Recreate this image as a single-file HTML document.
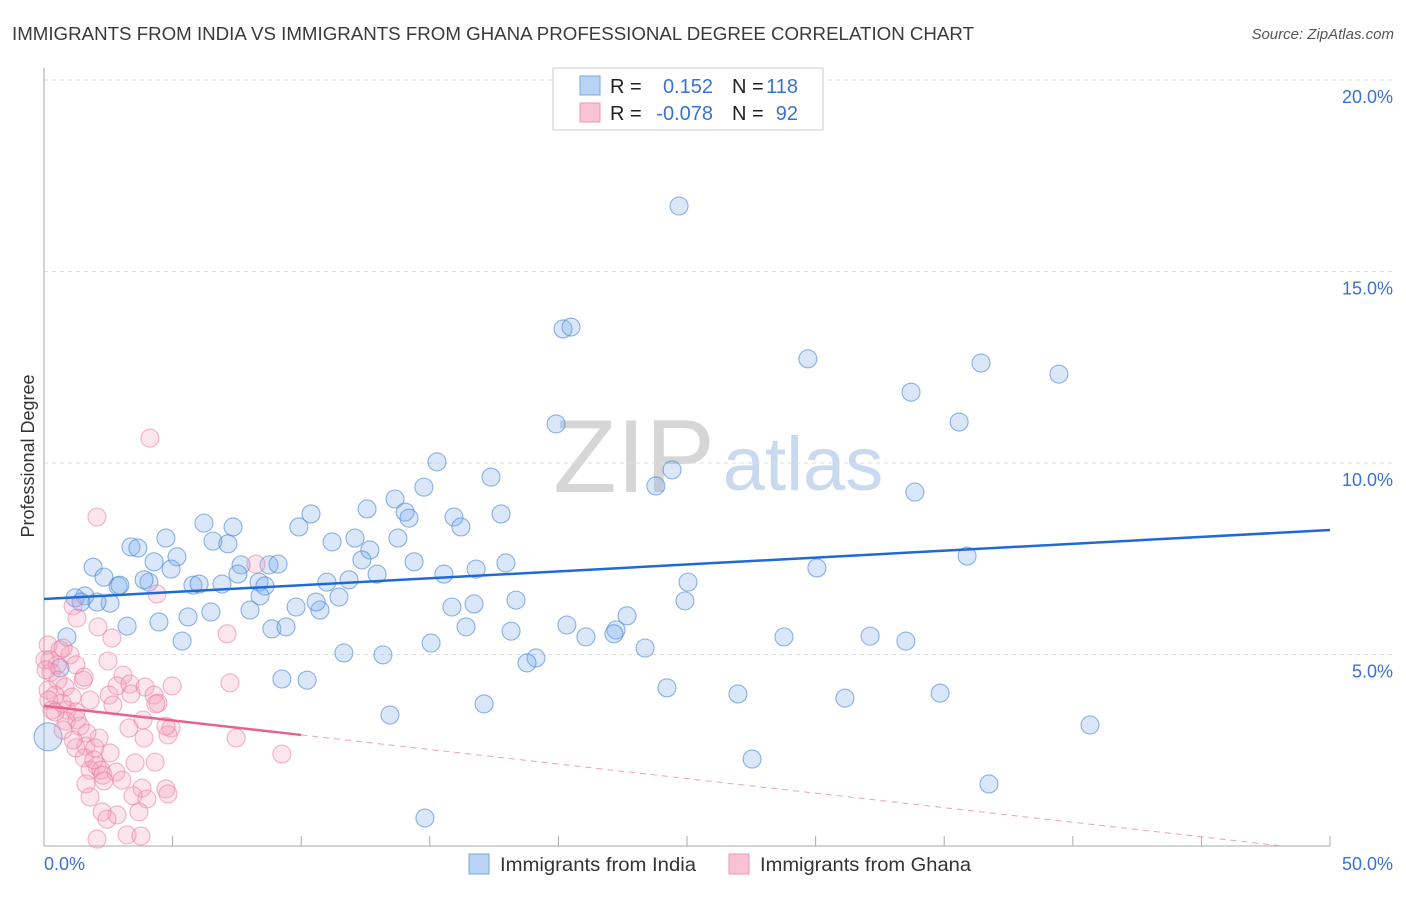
<!DOCTYPE html>
<html><head><meta charset="utf-8"><style>
body{margin:0;background:#fff;font-family:"Liberation Sans",sans-serif}
svg text{font-family:"Liberation Sans",sans-serif}
</style></head><body>
<svg id="chart" width="1406" height="892" viewBox="0 0 1406 892" xmlns="http://www.w3.org/2000/svg">
<text x="12" y="40" font-size="18.7" fill="#3a3a3a" textLength="962" lengthAdjust="spacingAndGlyphs">IMMIGRANTS FROM INDIA VS IMMIGRANTS FROM GHANA PROFESSIONAL DEGREE CORRELATION CHART</text>
<text x="1394" y="39" font-size="15" fill="#555" text-anchor="end" font-style="italic">Source: ZipAtlas.com</text>
<g>
<text x="634" y="492" font-size="104" fill="#d6d6d6" text-anchor="middle" font-family="Liberation Serif, serif">ZIP</text>
<text x="803" y="490" font-size="76" fill="#c9d9f0" text-anchor="middle">atlas</text>
</g>
<text transform="translate(34,456) rotate(-90)" font-size="18" fill="#333" text-anchor="middle">Professional Degree</text>
<g id="grid"></g><g id="axes"></g><g id="pts"></g><g id="trend"></g>
<g>
<rect x="553" y="68" width="270" height="62" fill="#fff" stroke="#ccc"/>
<rect x="580" y="76" width="20" height="19" fill="#b9d3f5" stroke="#7aa8e3"/>
<rect x="580" y="103" width="20" height="19" fill="#f9c3d3" stroke="#ec97b2"/>
<text x="610" y="93" font-size="20" fill="#222">R =</text>
<text x="713" y="93" font-size="20" fill="#3a72d0" text-anchor="end">0.152</text>
<text x="732" y="93" font-size="20" fill="#222">N =</text>
<text x="798" y="93" font-size="20" fill="#3a72d0" text-anchor="end">118</text>
<text x="610" y="120" font-size="20" fill="#222">R =</text>
<text x="713" y="120" font-size="20" fill="#3a72d0" text-anchor="end">-0.078</text>
<text x="732" y="120" font-size="20" fill="#222">N =</text>
<text x="798" y="120" font-size="20" fill="#3a72d0" text-anchor="end">92</text>
</g>
<g>
<rect x="469" y="854" width="20" height="20" fill="#b9d3f5" stroke="#7aa8e3"/>
<text x="500" y="871" font-size="19.5" fill="#333" textLength="196" lengthAdjust="spacingAndGlyphs">Immigrants from India</text>
<rect x="729" y="854" width="20" height="20" fill="#f9c3d3" stroke="#ec97b2"/>
<text x="760" y="871" font-size="19.5" fill="#333" textLength="211" lengthAdjust="spacingAndGlyphs">Immigrants from Ghana</text>
</g>
</svg>
<script>
const xTicks=[0,5,10,15,20,25,30,35,40,45,50];
const yTicks=[5,10,15,20];
const yTickLabels=["5.0%","10.0%","15.0%","20.0%"];
const xEndLabels=["0.0%","50.0%"];
const indiaX=[24.69,20.18,20.49,29.70,36.43,39.46,33.71,19.91,35.58,15.28,24.42,23.79,33.86,17.38,14.77,13.65,14.04,14.19,15.94,16.21,17.77,10.38,9.91,6.22,7.35,12.56,12.09,13.76,12.67,11.20,4.74,3.38,3.65,6.57,7.15,5.17,4.28,1.91,2.33,4.08,4.94,2.88,3.89,2.95,7.66,7.54,8.75,9.10,12.36,14.39,12.95,15.55,16.80,17.96,11.00,11.86,8.36,8.59,5.79,6.03,6.92,8.40,2.57,1.59,1.21,1.44,2.06,11.47,9.80,10.73,10.58,8.01,6.49,5.60,4.47,3.23,5.37,8.86,9.41,15.86,16.72,18.35,22.67,20.33,16.41,18.16,22.24,22.16,21.07,24.92,25.04,30.05,35.89,28.77,32.12,33.51,23.37,15.05,11.66,13.18,19.13,18.78,9.25,10.23,24.22,26.98,31.14,34.84,17.11,13.45,40.67,27.53,36.74,14.81,0.89,0.62,0.16];
const indiaY=[16.71,13.5,13.55,12.72,12.61,12.32,11.85,11.02,11.07,10.03,9.82,9.40,9.24,9.63,9.37,9.06,8.72,8.56,8.59,8.33,8.67,8.67,8.33,8.43,8.33,8.80,8.04,8.04,7.73,7.94,8.04,7.81,7.78,7.96,7.89,7.55,7.42,7.28,7.02,6.89,7.23,6.79,6.95,6.81,7.34,7.10,7.34,7.36,7.47,7.42,7.10,7.10,7.23,7.39,6.89,6.95,6.89,6.79,6.81,6.84,6.84,6.53,6.34,6.53,6.48,6.37,6.37,6.50,6.24,6.16,6.37,6.16,6.11,5.98,5.85,5.74,5.35,5.67,5.72,6.24,6.32,6.42,6.01,5.77,5.72,5.61,5.64,5.54,5.46,6.40,6.89,7.26,7.57,5.46,5.48,5.35,5.17,5.30,5.04,4.99,4.91,4.78,4.36,4.33,4.13,3.97,3.86,3.99,3.71,3.42,3.16,2.27,1.62,0.73,5.46,4.65,2.85];
const ghanaX=[4.12,2.06,8.24,4.39,1.13,1.28,2.10,7.12,2.64,0.16,0.62,0.23,0.51,1.01,0.74,0.27,0.54,0.82,1.09,1.52,1.24,2.49,1.56,3.07,2.84,3.34,2.53,1.79,3.38,3.93,4.28,4.98,4.43,7.23,2.68,4.35,0.89,1.24,0.86,1.28,1.67,3.85,3.30,3.89,4.94,4.82,7.47,9.25,1.63,1.98,2.14,1.56,2.06,1.24,1.79,2.22,2.29,1.94,2.80,3.54,4.32,1.63,1.79,2.33,3.03,3.81,4.74,4.82,3.46,4.00,2.26,2.84,2.45,3.69,2.06,3.23,3.77,0.16,0.43,0.19,0.70,0.31,1.13,1.40,0.74,2.57,0.04,0.08,0.43,4.74];
const ghanaY=[10.65,8.59,7.36,6.58,6.27,5.95,5.72,5.54,5.43,5.25,5.12,4.86,4.73,4.99,5.17,4.54,4.33,4.15,3.89,4.33,4.73,4.83,4.41,4.46,4.18,4.23,3.94,3.81,3.97,4.15,3.94,4.18,3.73,4.26,3.68,3.71,3.55,3.50,3.26,3.29,2.95,3.29,3.08,2.82,3.08,2.90,2.82,2.40,2.61,2.56,2.82,2.30,2.09,2.56,1.98,1.98,1.85,2.25,1.93,2.17,2.19,1.62,1.28,1.70,1.72,1.51,1.49,1.36,1.31,1.23,0.89,0.81,0.70,0.89,0.18,0.29,0.26,4.07,3.94,3.81,3.73,3.55,2.77,3.13,3.03,2.43,4.86,4.60,3.50,3.13];
const indiaTrend=[6.45,8.25];
const ghanaTrend=[3.66,-0.076];
const NS="http://www.w3.org/2000/svg";
const X0=44,X1=1330,Y0=846,YTOP=80;
const sx=v=>X0+(X1-X0)*v/50;
const sy=v=>Y0-(Y0-YTOP)*v/20;
function mk(tag,attrs,parent){const e=document.createElementNS(NS,tag);for(const k in attrs)e.setAttribute(k,attrs[k]);document.getElementById(parent).appendChild(e);return e;}
yTicks.forEach((t,i)=>{
 const g=mk('line',{x1:X0,x2:1394,y1:sy(t),y2:sy(t),stroke:'#ddd','stroke-dasharray':'4,4'},'grid');
 
 
 const l=mk('text',{x:1393,y:sy(t)+23,'font-size':18,fill:'#3a72d0','text-anchor':'end'},'grid');
 l.textContent=yTickLabels[i];
 
 
});
const ax=mk('line',{x1:X0,x2:X0,y1:68,y2:Y0,stroke:'#aaa'},'axes');


const bx=mk('line',{x1:X0,x2:X1,y1:Y0,y2:Y0,stroke:'#aaa'},'axes');


xTicks.forEach(t=>{if(t===0)return;
 const tk=mk('line',{x1:sx(t),x2:sx(t),y1:Y0-10,y2:Y0,stroke:'#aaa'},'axes');
 
 
});
const xl0=mk('text',{x:44,y:870,'font-size':18,fill:'#3a72d0'},'axes');xl0.textContent=xEndLabels[0];


const xl1=mk('text',{x:1393,y:870,'font-size':18,fill:'#3a72d0','text-anchor':'end'},'axes');xl1.textContent=xEndLabels[1];


const big={116:14,117:12,118:18};
indiaX.forEach((x,i)=>{
 const c=mk('circle',{cx:sx(x),cy:sy(indiaY[i]),r:big[i]||9,fill:'rgba(130,175,235,0.3)',stroke:'rgba(70,130,215,0.6)','stroke-width':1.1},'pts');
 
 
});
ghanaX.forEach((x,i)=>{
 const c=mk('circle',{cx:sx(x),cy:sy(ghanaY[i]),r:9,fill:'rgba(245,160,188,0.28)',stroke:'rgba(232,120,158,0.55)','stroke-width':1.1},'pts');
 
 
});
const bt=mk('line',{x1:sx(0),y1:sy(indiaTrend[0]),x2:sx(50),y2:sy(indiaTrend[1]),stroke:'#1f6bd6','stroke-width':2.5},'trend');


const gy=x=>ghanaTrend[0]+ghanaTrend[1]*x;
const pt=mk('line',{x1:sx(0),y1:sy(gy(0)),x2:sx(10),y2:sy(gy(10)),stroke:'#e8628e','stroke-width':2.5},'trend');


const xe=-ghanaTrend[0]/ghanaTrend[1];
const pd=mk('line',{x1:sx(10),y1:sy(gy(10)),x2:sx(xe),y2:sy(0),stroke:'#f0a0ba','stroke-width':1,'stroke-dasharray':'6,5'},'trend');


</script>
</body></html>
